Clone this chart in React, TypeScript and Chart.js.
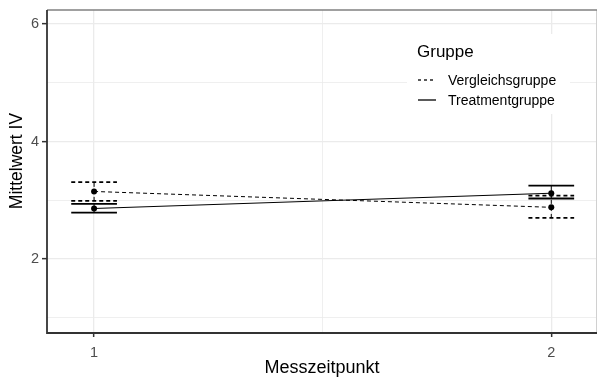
import React, { useEffect, useRef } from "react";
import { Chart, registerables } from "chart.js";

Chart.register(...registerables);

const categories = [1, 2];
const xTickLabels = ["1", "2"];
const yTickValues = [2, 4, 6];
const seriesNames = ["Vergleichsgruppe", "Treatmentgruppe"];
const vergleichMean = [3.15, 2.88];
const vergleichLower = [2.99, 2.7];
const vergleichUpper = [3.31, 3.08];
const treatmentMean = [2.86, 3.12];
const treatmentLower = [2.79, 3.03];
const treatmentUpper = [2.94, 3.25];

const FONT = "'Liberation Sans', Arial, sans-serif";
const CAP_HALF = 0.05;

const errorBarsPlugin = {
  id: "errorBars",
  afterDatasetsDraw(chart: any) {
    const { ctx, scales } = chart;
    const xs = scales.x;
    const ys = scales.y;
    const groups = [
      { lo: vergleichLower, hi: vergleichUpper, dash: [4, 3] },
      { lo: treatmentLower, hi: treatmentUpper, dash: [] as number[] },
    ];
    ctx.save();
    ctx.strokeStyle = "#000";
    groups.forEach((g) => {
      categories.forEach((c, i) => {
        const x = xs.getPixelForValue(c);
        const xl = xs.getPixelForValue(c - CAP_HALF);
        const xr = xs.getPixelForValue(c + CAP_HALF);
        const yl = ys.getPixelForValue(g.lo[i]);
        const yh = ys.getPixelForValue(g.hi[i]);
        ctx.setLineDash(g.dash);
        ctx.lineWidth = 1;
        ctx.beginPath();
        ctx.moveTo(x, yl);
        ctx.lineTo(x, yh);
        ctx.stroke();
        ctx.lineWidth = 1.8;
        ctx.beginPath();
        ctx.moveTo(xl, yl);
        ctx.lineTo(xr, yl);
        ctx.moveTo(xl, yh);
        ctx.lineTo(xr, yh);
        ctx.stroke();
      });
    });
    ctx.restore();
  },
};

const framePlugin = {
  id: "frame",
  beforeDatasetsDraw(chart: any) {
    const { ctx, chartArea: a } = chart;
    ctx.save();
    ctx.fillStyle = "#fff";
    ctx.fillRect(407, 34, 163, 80);
    ctx.lineWidth = 1;
    ctx.strokeStyle = "#d0d0d0";
    ctx.beginPath();
    ctx.moveTo(a.right - 0.5, a.top);
    ctx.lineTo(a.right - 0.5, a.bottom);
    ctx.stroke();
    ctx.strokeStyle = "#808080";
    ctx.lineWidth = 1.5;
    ctx.beginPath();
    ctx.moveTo(a.left, a.top);
    ctx.lineTo(a.right, a.top);
    ctx.stroke();
    ctx.strokeStyle = "#333";
    ctx.lineWidth = 1.8;
    ctx.beginPath();
    ctx.moveTo(a.left, a.top);
    ctx.lineTo(a.left, a.bottom);
    ctx.lineTo(a.right, a.bottom);
    ctx.stroke();
    ctx.restore();
  },
  afterDraw(chart: any) {
    const { ctx, chartArea: a } = chart;
    ctx.save();
    ctx.fillStyle = "#000";
    ctx.font = `18px ${FONT}`;
    ctx.textAlign = "center";
    ctx.textBaseline = "middle";
    ctx.fillText("Messzeitpunkt", (a.left + a.right) / 2, 368);
    ctx.save();
    ctx.translate(17, 161);
    ctx.rotate(-Math.PI / 2);
    ctx.font = `17.5px ${FONT}`;
    ctx.fillText("Mittelwert IV", 0, 0);
    ctx.restore();
    ctx.textAlign = "left";
    ctx.font = `17px ${FONT}`;
    ctx.fillText("Gruppe", 417, 52);
    ctx.font = `14px ${FONT}`;
    const rows = [80, 100];
    const dashes = [[3, 3], []];
    rows.forEach((y, i) => {
      ctx.strokeStyle = "#000";
      ctx.lineWidth = 1.3;
      ctx.setLineDash(dashes[i]);
      ctx.beginPath();
      ctx.moveTo(418, y);
      ctx.lineTo(436, y);
      ctx.stroke();
      ctx.setLineDash([]);
      ctx.fillText(seriesNames[i], 448, y + 1);
    });
    ctx.restore();
  },
};

export default function App() {
  const ref = useRef<HTMLCanvasElement>(null);
  useEffect(() => {
    document.body.style.margin = "0";
    const canvas = ref.current!;
    const chart = new Chart(canvas, {
      type: "line",
      data: {
        datasets: [
          {
            label: seriesNames[0],
            data: categories.map((c, i) => ({ x: c, y: vergleichMean[i] })),
            borderColor: "#000",
            backgroundColor: "#000",
            borderWidth: 1,
            borderDash: [4, 3],
            pointRadius: 3,
            pointBorderWidth: 0,
            pointBackgroundColor: "#000",
          },
          {
            label: seriesNames[1],
            data: categories.map((c, i) => ({ x: c, y: treatmentMean[i] })),
            borderColor: "#000",
            backgroundColor: "#000",
            borderWidth: 1,
            pointRadius: 3,
            pointBorderWidth: 0,
            pointBackgroundColor: "#000",
          },
        ],
      },
      options: {
        animation: false,
        responsive: false,
        devicePixelRatio: 1,
        layout: { autoPadding: false, padding: { top: 10, right: 1, left: 0, bottom: 0 } },
        plugins: { legend: { display: false }, tooltip: { enabled: false } },
        scales: {
          x: {
            type: "linear",
            min: 0.897,
            max: 2.1,
            afterBuildTicks: (s: any) => {
              s.ticks = [1, 1.5, 2].map((v) => ({ value: v }));
            },
            afterFit: (s: any) => {
              s.height = 46;
              s.paddingLeft = 0;
              s.paddingRight = 0;
            },
            border: { display: false },
            grid: {
              color: "#ebebeb",
              lineWidth: (c: any) => (Number.isInteger(c.tick?.value) ? 1.3 : 0.8),
              tickColor: (c: any) => (Number.isInteger(c.tick?.value) ? "#333" : "rgba(0,0,0,0)"),
              tickLength: 4,
              tickWidth: 1.5,
            },
            ticks: {
              autoSkip: false,
              maxRotation: 0,
              padding: 7,
              color: "#4d4d4d",
              font: { family: FONT, size: 14.5 },
              callback: (v: any) => {
                const idx = categories.indexOf(Number(v));
                return idx >= 0 ? xTickLabels[idx] : "";
              },
            },
          },
          y: {
            type: "linear",
            min: 0.74,
            max: 6.24,
            afterBuildTicks: (s: any) => {
              s.ticks = [1, 2, 3, 4, 5, 6].map((v) => ({ value: v }));
            },
            afterFit: (s: any) => {
              s.width = 47;
              s.paddingTop = 0;
              s.paddingBottom = 0;
            },
            border: { display: false },
            grid: {
              color: "#ebebeb",
              lineWidth: (c: any) => (yTickValues.includes(c.tick?.value) ? 1.3 : 0.8),
              tickColor: (c: any) => (yTickValues.includes(c.tick?.value) ? "#333" : "rgba(0,0,0,0)"),
              tickLength: 5,
              tickWidth: 1.5,
            },
            ticks: {
              autoSkip: false,
              padding: 3,
              color: "#4d4d4d",
              font: { family: FONT, size: 14.5 },
              callback: (v: any) => (yTickValues.includes(Number(v)) ? String(v) : ""),
            },
          },
        },
      },
      plugins: [framePlugin, errorBarsPlugin],
    } as any);
    return () => chart.destroy();
  }, []);
  return <canvas ref={ref} width={598} height={379} style={{ display: "block", width: 598, height: 379 }} />;
}
